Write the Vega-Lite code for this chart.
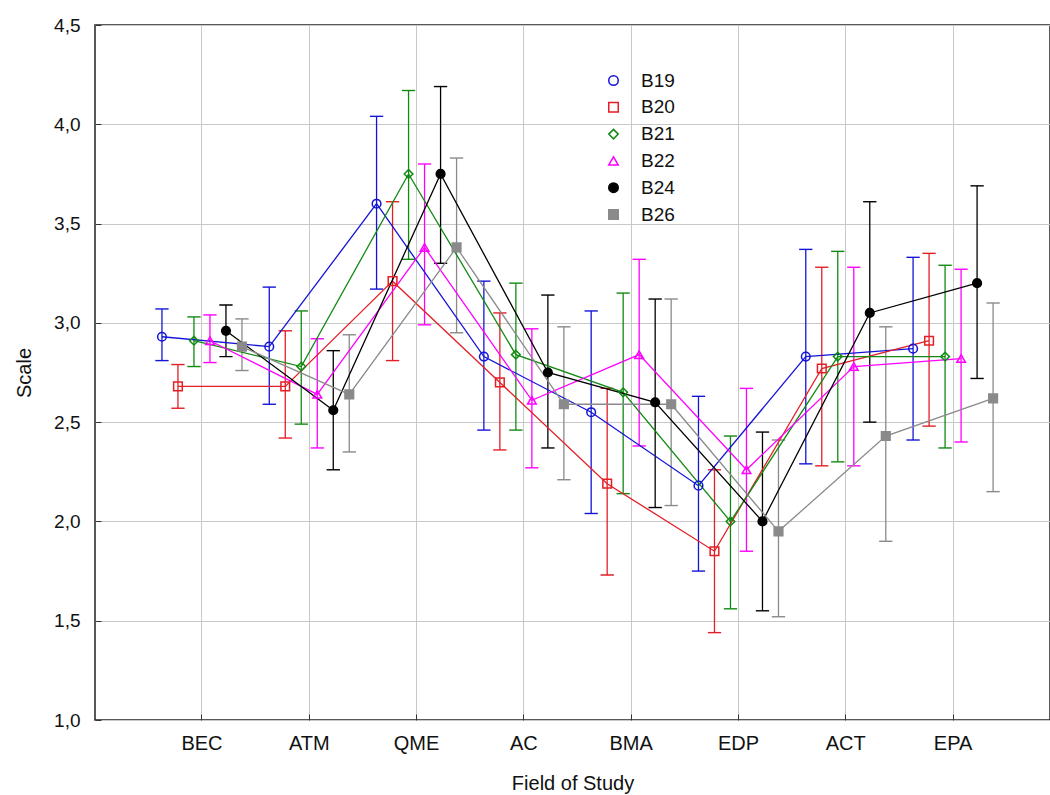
{
  "$schema": "https://vega.github.io/schema/vega-lite/v6.json",
  "width": 955,
  "height": 695,
  "autosize": {"type": "none"},
  "padding": {"left": 95, "top": 25, "right": 0, "bottom": 75},
  "background": "white",
  "config": {
    "font": "Liberation Sans",
    "view": {"stroke": "#222222", "strokeWidth": 1.5},
    "axis": {
      "labelFont": "Liberation Sans",
      "titleFont": "Liberation Sans",
      "labelFontSize": 19,
      "titleFontSize": 20,
      "labelColor": "#111111",
      "titleColor": "#111111",
      "titleFontWeight": "normal",
      "gridColor": "#c8c8c8",
      "gridWidth": 1,
      "domain": false,
      "tickColor": "#333333"
    },
    "legend": {"labelFont": "Liberation Sans", "labelFontSize": 19, "labelColor": "#111111"}
  },
  "data": {
    "values": [
      {"field": "BEC", "series": "B19", "mean": 2.93, "lo": 2.81, "hi": 3.07},
      {"field": "BEC", "series": "B20", "mean": 2.68, "lo": 2.57, "hi": 2.79},
      {"field": "BEC", "series": "B21", "mean": 2.91, "lo": 2.78, "hi": 3.03},
      {"field": "BEC", "series": "B22", "mean": 2.91, "lo": 2.80, "hi": 3.04},
      {"field": "BEC", "series": "B24", "mean": 2.96, "lo": 2.83, "hi": 3.09},
      {"field": "BEC", "series": "B26", "mean": 2.88, "lo": 2.76, "hi": 3.02},
      {"field": "ATM", "series": "B19", "mean": 2.88, "lo": 2.59, "hi": 3.18},
      {"field": "ATM", "series": "B20", "mean": 2.68, "lo": 2.42, "hi": 2.96},
      {"field": "ATM", "series": "B21", "mean": 2.78, "lo": 2.49, "hi": 3.06},
      {"field": "ATM", "series": "B22", "mean": 2.64, "lo": 2.37, "hi": 2.92},
      {"field": "ATM", "series": "B24", "mean": 2.56, "lo": 2.26, "hi": 2.86},
      {"field": "ATM", "series": "B26", "mean": 2.64, "lo": 2.35, "hi": 2.94},
      {"field": "QME", "series": "B19", "mean": 3.60, "lo": 3.17, "hi": 4.04},
      {"field": "QME", "series": "B20", "mean": 3.21, "lo": 2.81, "hi": 3.61},
      {"field": "QME", "series": "B21", "mean": 3.75, "lo": 3.32, "hi": 4.17},
      {"field": "QME", "series": "B22", "mean": 3.38, "lo": 2.99, "hi": 3.80},
      {"field": "QME", "series": "B24", "mean": 3.75, "lo": 3.30, "hi": 4.19},
      {"field": "QME", "series": "B26", "mean": 3.38, "lo": 2.95, "hi": 3.83},
      {"field": "AC", "series": "B19", "mean": 2.83, "lo": 2.46, "hi": 3.21},
      {"field": "AC", "series": "B20", "mean": 2.70, "lo": 2.36, "hi": 3.05},
      {"field": "AC", "series": "B21", "mean": 2.84, "lo": 2.46, "hi": 3.20},
      {"field": "AC", "series": "B22", "mean": 2.61, "lo": 2.27, "hi": 2.97},
      {"field": "AC", "series": "B24", "mean": 2.75, "lo": 2.37, "hi": 3.14},
      {"field": "AC", "series": "B26", "mean": 2.59, "lo": 2.21, "hi": 2.98},
      {"field": "BMA", "series": "B19", "mean": 2.55, "lo": 2.04, "hi": 3.06},
      {"field": "BMA", "series": "B20", "mean": 2.19, "lo": 1.73, "hi": 2.67},
      {"field": "BMA", "series": "B21", "mean": 2.65, "lo": 2.14, "hi": 3.15},
      {"field": "BMA", "series": "B22", "mean": 2.84, "lo": 2.38, "hi": 3.32},
      {"field": "BMA", "series": "B24", "mean": 2.60, "lo": 2.07, "hi": 3.12},
      {"field": "BMA", "series": "B26", "mean": 2.59, "lo": 2.08, "hi": 3.12},
      {"field": "EDP", "series": "B19", "mean": 2.18, "lo": 1.75, "hi": 2.63},
      {"field": "EDP", "series": "B20", "mean": 1.85, "lo": 1.44, "hi": 2.26},
      {"field": "EDP", "series": "B21", "mean": 2.00, "lo": 1.56, "hi": 2.43},
      {"field": "EDP", "series": "B22", "mean": 2.26, "lo": 1.85, "hi": 2.67},
      {"field": "EDP", "series": "B24", "mean": 2.00, "lo": 1.55, "hi": 2.45},
      {"field": "EDP", "series": "B26", "mean": 1.95, "lo": 1.52, "hi": 2.41},
      {"field": "ACT", "series": "B19", "mean": 2.83, "lo": 2.29, "hi": 3.37},
      {"field": "ACT", "series": "B20", "mean": 2.77, "lo": 2.28, "hi": 3.28},
      {"field": "ACT", "series": "B21", "mean": 2.83, "lo": 2.30, "hi": 3.36},
      {"field": "ACT", "series": "B22", "mean": 2.78, "lo": 2.28, "hi": 3.28},
      {"field": "ACT", "series": "B24", "mean": 3.05, "lo": 2.50, "hi": 3.61},
      {"field": "ACT", "series": "B26", "mean": 2.43, "lo": 1.90, "hi": 2.98},
      {"field": "EPA", "series": "B19", "mean": 2.87, "lo": 2.41, "hi": 3.33},
      {"field": "EPA", "series": "B20", "mean": 2.91, "lo": 2.48, "hi": 3.35},
      {"field": "EPA", "series": "B21", "mean": 2.83, "lo": 2.37, "hi": 3.29},
      {"field": "EPA", "series": "B22", "mean": 2.82, "lo": 2.40, "hi": 3.27},
      {"field": "EPA", "series": "B24", "mean": 3.20, "lo": 2.72, "hi": 3.69},
      {"field": "EPA", "series": "B26", "mean": 2.62, "lo": 2.15, "hi": 3.10}
    ]
  },
  "encoding": {
    "x": {
      "field": "field",
      "type": "nominal",
      "sort": null,
      "title": "Field of Study",
      "scale": {"type": "band", "paddingInner": 0, "paddingOuter": 0.45, "align": 0.552},
      "axis": {"labelAngle": 0, "grid": true, "tickSize": -6, "labelPadding": 19, "labelFontSize": 20, "titlePadding": 20}
    },
    "xOffset": {
      "field": "series",
      "type": "nominal",
      "scale": {"type": "point", "padding": 0.853}
    },
    "color": {
      "field": "series",
      "type": "nominal",
      "scale": {
        "domain": ["B19", "B20", "B21", "B22", "B24", "B26"],
        "range": ["#1414d8", "#e41e26", "#128a12", "#ff00ff", "#000000", "#8a8a8a"]
      },
      "legend": {
        "title": null,
        "orient": "none",
        "legendX": 509,
        "legendY": 46,
        "symbolSize": 90,
        "symbolStrokeWidth": 1.5,
        "rowPadding": 6.8,
        "labelOffset": 18
      }
    }
  },
  "layer": [
    {
      "mark": {"type": "rule", "strokeWidth": 1.3},
      "encoding": {
        "y": {
          "field": "lo",
          "type": "quantitative",
          "title": "Scale",
          "scale": {"domain": [1, 4.5], "nice": false, "zero": false},
          "axis": {
            "values": [1, 1.5, 2, 2.5, 3, 3.5, 4, 4.5],
            "labelExpr": "replace(format(datum.value, '.1f'), '.', ',')",
            "grid": true,
            "tickSize": -6,
            "labelPadding": 21,
            "titlePadding": 19
          }
        },
        "y2": {"field": "hi"}
      }
    },
    {
      "mark": {"type": "tick", "size": 12, "thickness": 0.1, "filled": false, "strokeWidth": 1.3, "opacity": 1},
      "encoding": {"y": {"field": "hi", "type": "quantitative"}}
    },
    {
      "mark": {"type": "tick", "size": 12, "thickness": 0.1, "filled": false, "strokeWidth": 1.3, "opacity": 1},
      "encoding": {"y": {"field": "lo", "type": "quantitative"}}
    },
    {
      "mark": {"type": "line", "strokeWidth": 1.3},
      "encoding": {"y": {"field": "mean", "type": "quantitative"}}
    },
    {
      "mark": {"type": "point", "size": 75, "strokeWidth": 1.5, "opacity": 1, "filled": false},
      "encoding": {
        "y": {"field": "mean", "type": "quantitative"},
        "shape": {
          "field": "series",
          "type": "nominal",
          "scale": {
            "domain": ["B19", "B20", "B21", "B22", "B24", "B26"],
            "range": ["circle", "square", "diamond", "triangle-up", "circle", "square"]
          },
          "legend": {
            "title": null,
            "orient": "none",
            "legendX": 509,
            "legendY": 46,
            "symbolSize": 90,
            "symbolStrokeWidth": 1.5,
            "rowPadding": 6.8,
            "labelOffset": 18
          }
        },
        "fill": {
          "field": "series",
          "type": "nominal",
          "scale": {
            "domain": ["B19", "B20", "B21", "B22", "B24", "B26"],
            "range": ["transparent", "transparent", "transparent", "transparent", "#000000", "#8a8a8a"]
          },
          "legend": {
            "title": null,
            "orient": "none",
            "legendX": 509,
            "legendY": 46,
            "symbolSize": 90,
            "symbolStrokeWidth": 1.5,
            "rowPadding": 6.8,
            "labelOffset": 18
          }
        }
      }
    }
  ]
}
